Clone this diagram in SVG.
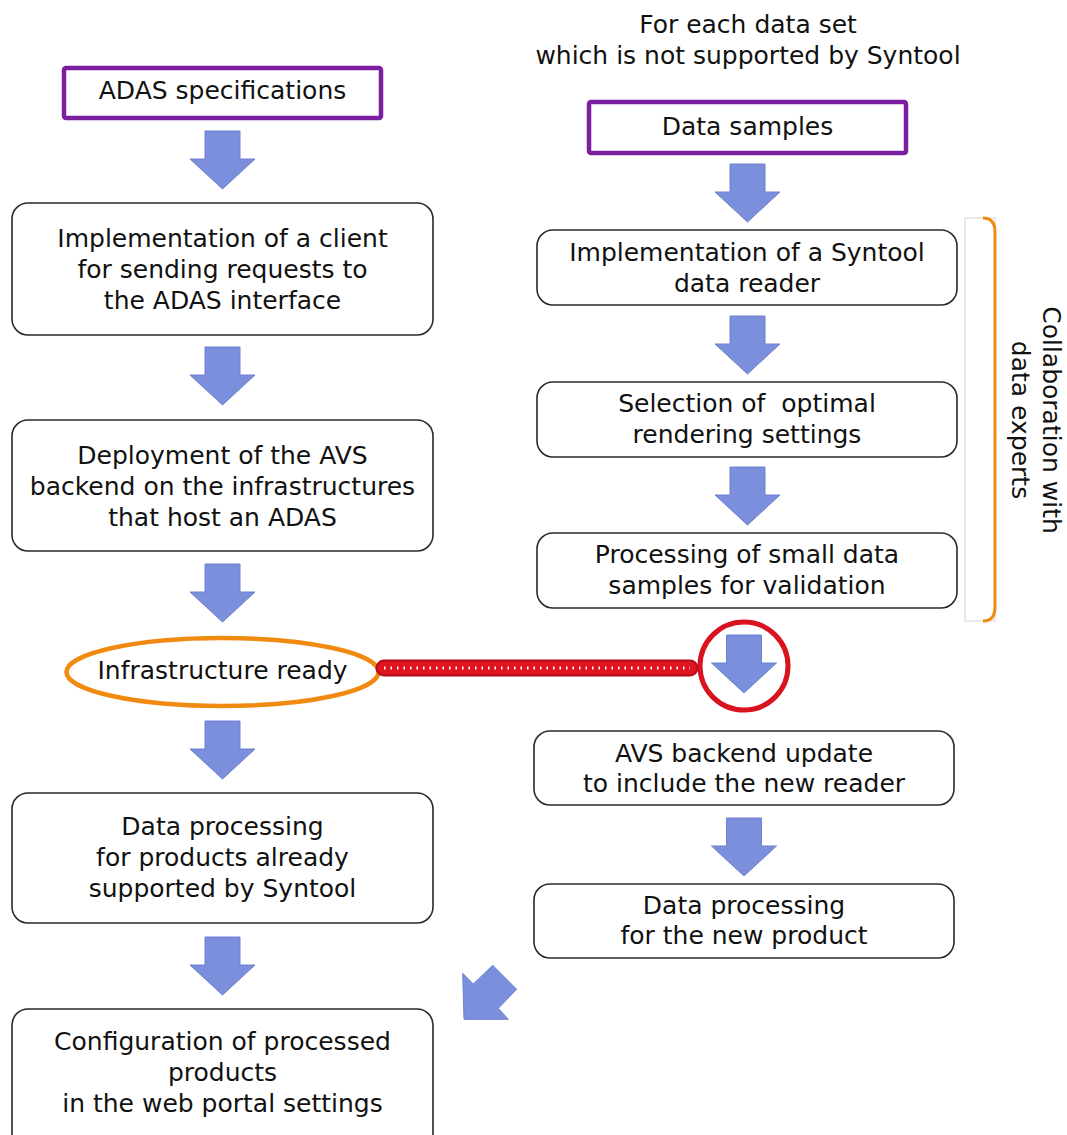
<svg xmlns="http://www.w3.org/2000/svg" xmlns:xlink="http://www.w3.org/1999/xlink" width="1067" height="1135" viewBox="0 0 1067 1135">
<style>
  text { font-family: "DejaVu Sans", "Liberation Sans", sans-serif; font-size: 25px; fill: #111; text-anchor: middle; white-space: pre; }
  .box { fill: #ffffff; stroke: #2a2a2a; stroke-width: 1.6; }
  .spec { fill: #ffffff; stroke: #7b1ea0; stroke-width: 4.5; }
  .arr { fill: #7b8fdc; stroke: #6e80cf; stroke-width: 1; }
</style>
<defs>
  <path id="darr" d="M-17.5,0 H17.5 V28 H32.5 L0,58 L-32.5,28 H-17.5 Z"/>
</defs>
<rect width="1067" height="1135" fill="#ffffff"/>

<g id="title">
  <text x="748" y="33">For each data set</text>
  <text x="748" y="64">which is not supported by Syntool</text>
</g>

<g id="adas-spec">
  <rect class="spec" x="64" y="68" width="317" height="50" rx="2"/>
  <text x="222.5" y="99">ADAS specifications</text>
</g>
<g id="impl-client">
  <rect class="box" x="12" y="203" width="421" height="132" rx="16"/>
  <text x="222.5" y="247">Implementation of a client</text>
  <text x="222.5" y="278">for sending requests to</text>
  <text x="222.5" y="309">the ADAS interface</text>
</g>
<g id="deploy">
  <rect class="box" x="12" y="420" width="421" height="131" rx="16"/>
  <text x="222.5" y="464">Deployment of the AVS</text>
  <text x="222.5" y="495">backend on the infrastructures</text>
  <text x="222.5" y="526">that host an ADAS</text>
</g>
<g id="infra-ready">
  <ellipse cx="222.5" cy="672" rx="156" ry="34" fill="#ffffff" stroke="#f08a10" stroke-width="4.5"/>
  <text x="222.5" y="679">Infrastructure ready</text>
</g>
<g id="proc-supported">
  <rect class="box" x="12" y="793" width="421" height="130" rx="16"/>
  <text x="222.5" y="835">Data processing</text>
  <text x="222.5" y="866">for products already</text>
  <text x="222.5" y="897">supported by Syntool</text>
</g>
<g id="config">
  <rect class="box" x="12" y="1009" width="421" height="140" rx="16"/>
  <text x="222.5" y="1050">Configuration of processed</text>
  <text x="222.5" y="1081">products</text>
  <text x="222.5" y="1112">in the web portal settings</text>
</g>

<g id="data-samples">
  <rect class="spec" x="589" y="102" width="317" height="51" rx="2"/>
  <text x="747.5" y="135">Data samples</text>
</g>
<g id="impl-reader">
  <rect class="box" x="537" y="230" width="420" height="75" rx="16"/>
  <text x="747" y="261">Implementation of a Syntool</text>
  <text x="747" y="292">data reader</text>
</g>
<g id="rendering">
  <rect class="box" x="537" y="382" width="420" height="75" rx="16"/>
  <text x="747" y="412">Selection of  optimal</text>
  <text x="747" y="443">rendering settings</text>
</g>
<g id="validation">
  <rect class="box" x="537" y="533" width="420" height="75" rx="16"/>
  <text x="747" y="563">Processing of small data</text>
  <text x="747" y="594">samples for validation</text>
</g>
<g id="backend-update">
  <rect class="box" x="534" y="731" width="420" height="74" rx="16"/>
  <text x="744" y="762">AVS backend update</text>
  <text x="744" y="792">to include the new reader</text>
</g>
<g id="proc-new">
  <rect class="box" x="534" y="884" width="420" height="74" rx="16"/>
  <text x="744" y="914">Data processing</text>
  <text x="744" y="944">for the new product</text>
</g>

<g id="collaboration">
  <rect x="965" y="218" width="30" height="403" fill="#ffffff" stroke="#d4d4d4" stroke-width="1"/>
  <path d="M983,218 Q995,218 995,232 L995,607 Q995,621 983,621" fill="none" stroke="#f08a10" stroke-width="3"/>
  <text transform="translate(1043,420) rotate(90)">Collaboration with</text>
  <text transform="translate(1012,420) rotate(90)">data experts</text>
</g>

<g id="sync">
  <circle cx="744" cy="666" r="44" fill="#ffffff" stroke="#d8121e" stroke-width="5"/>
</g>

<g id="connectors">
  <use xlink:href="#darr" class="arr" x="222.5" y="131"/>
  <use xlink:href="#darr" class="arr" x="222.5" y="347"/>
  <use xlink:href="#darr" class="arr" x="222.5" y="564"/>
  <use xlink:href="#darr" class="arr" x="222.5" y="721"/>
  <use xlink:href="#darr" class="arr" x="222.5" y="937"/>
  <use xlink:href="#darr" class="arr" x="747.5" y="164"/>
  <use xlink:href="#darr" class="arr" x="747.5" y="316"/>
  <use xlink:href="#darr" class="arr" x="747.5" y="467"/>
  <use xlink:href="#darr" class="arr" x="744" y="635"/>
  <use xlink:href="#darr" class="arr" x="744" y="818"/>
  <polygon class="arr" points="462.7,973.3 473.3,984 492.7,965.3 516.7,989.3 498.3,1008.3 508.3,1019.3 464,1019.3"/>
  <g id="chain">
    <line x1="384" y1="668" x2="690" y2="668" stroke="#b50d18" stroke-width="17" stroke-linecap="round"/>
    <line x1="384" y1="668" x2="690" y2="668" stroke="#e0141f" stroke-width="13" stroke-linecap="round"/>
    <line x1="384" y1="668" x2="690" y2="668" stroke="#ffffff" stroke-width="3" stroke-dasharray="1.5 5"/>
  </g>
</g>
</svg>
